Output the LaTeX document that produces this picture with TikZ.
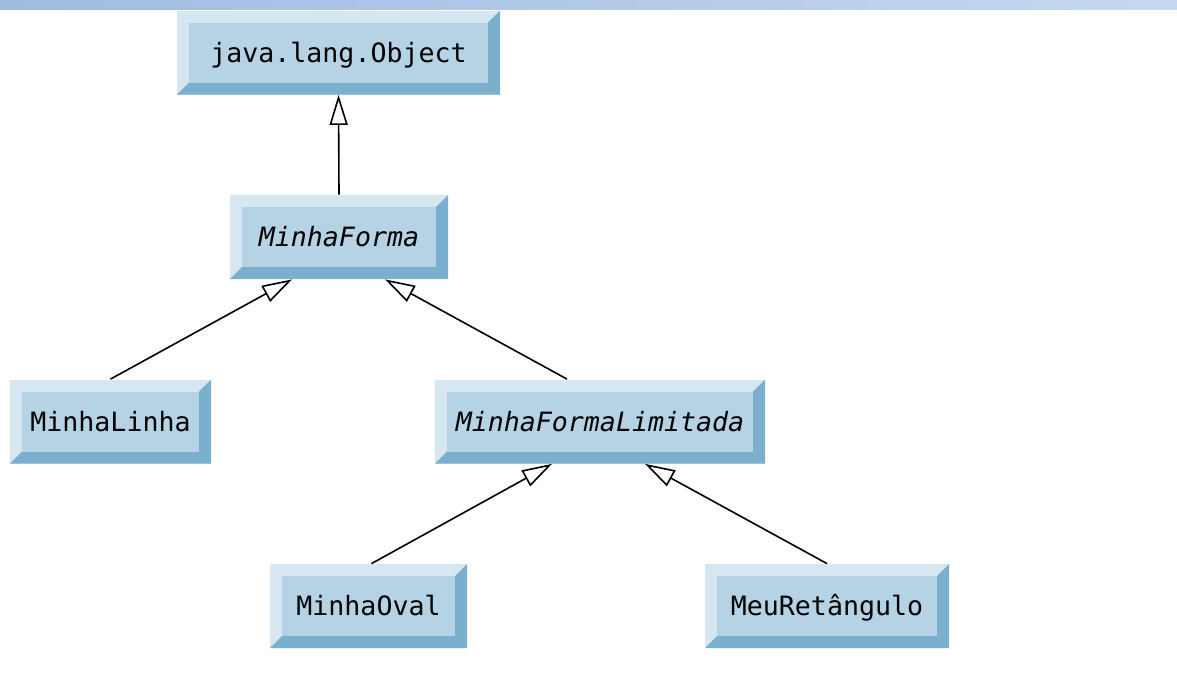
\documentclass[tikz,border=0pt]{standalone}
\usepackage{fontspec}
\setmonofont{DejaVu Sans Mono}
\usetikzlibrary{arrows.meta}

\definecolor{boxface}{RGB}{181,211,229}
\definecolor{boxlight}{RGB}{214,231,241}
\definecolor{boxdark}{RGB}{122,176,206}
\definecolor{bandleft}{RGB}{160,188,226}
\definecolor{bandright}{RGB}{196,216,240}

\tikzset{
  classbox/.style={fill=boxlight, inner sep=0pt, minimum height=42pt,
    text height=9.7pt, text depth=0pt,
    font=\ttfamily\fontsize{13.3}{16}\selectfont,
    path picture={
      \fill[boxdark] (path picture bounding box.north east)
        -- (path picture bounding box.south east)
        -- (path picture bounding box.south west)
        -- ([shift={(6pt,6pt)}]path picture bounding box.south west)
        -- ([shift={(-6pt,6pt)}]path picture bounding box.south east)
        -- ([shift={(-6pt,-6pt)}]path picture bounding box.north east) -- cycle;
      \fill[boxface] ([shift={(6pt,6pt)}]path picture bounding box.south west)
        rectangle ([shift={(-6pt,-6pt)}]path picture bounding box.north east);
    }},
  abstract/.style={classbox, font=\ttfamily\itshape\fontsize{13.3}{16}\selectfont},
  extends/.style={draw, line width=0.8pt, -{Triangle[fill=white, length=15pt, width=9pt]}}
}

\begin{document}
\begin{tikzpicture}[x=0.5pt, y=-0.5pt]
  \useasboundingbox (0,0) rectangle (1177,696);
  \shade[left color=bandleft, right color=bandright] (0,0) rectangle (1177,9);

  \node[classbox, minimum width=161.5pt] (obj) at (338.5,52.5) {java.lang.Object};
  \node[abstract, minimum width=109pt] (mforma) at (339,237) {MinhaForma};
  \node[classbox, minimum width=100.5pt] (mlinha) at (110.5,421.5) {MinhaLinha};
  \node[abstract, minimum width=165pt] (mfl) at (600,421.5) {MinhaFormaLimitada};
  \node[classbox, minimum width=98.5pt] (moval) at (368.5,606) {MinhaOval};
  \node[classbox, minimum width=122pt] (mret) at (827,606) {MeuRetângulo};

  \draw[extends] (mforma.north) -- (obj.south);
  \draw[extends] (mlinha.north) -- ([xshift=-23.5pt]mforma.south);
  \draw[extends] ([xshift=-16.5pt]mfl.north) -- ([xshift=23pt]mforma.south);
  \draw[extends] ([xshift=1.5pt]moval.north) -- ([xshift=-24pt]mfl.south);
  \draw[extends] (mret.north) -- ([xshift=22.5pt]mfl.south);
\end{tikzpicture}
\end{document}
